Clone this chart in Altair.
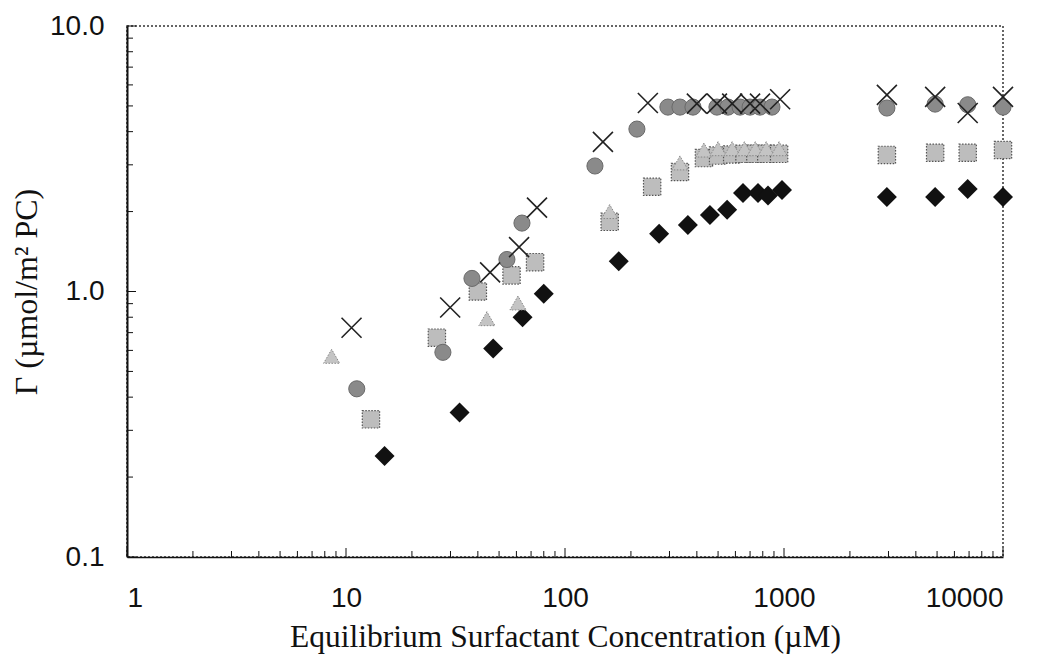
import altair as alt
import pandas as pd

# ---- data (concentration in uM, Gamma in umol/m2) ----
diamond_x = [15, 33, 47, 64, 80, 176, 269, 364, 459, 550, 650, 761, 845, 979, 2950, 4900, 6900, 10000]
diamond_y = [0.24, 0.35, 0.61, 0.80, 0.98, 1.30, 1.65, 1.78, 1.94, 2.03, 2.35, 2.35, 2.30, 2.41, 2.27, 2.27, 2.43, 2.27]

square_x = [13, 26, 40, 57, 73, 160, 250, 335, 431, 500, 580, 660, 740, 830, 950, 2950, 4900, 6900, 10000]
square_y = [0.33, 0.67, 1.0, 1.15, 1.29, 1.83, 2.48, 2.82, 3.18, 3.25, 3.28, 3.30, 3.30, 3.30, 3.30, 3.27, 3.33, 3.33, 3.41]

triangle_x = [8.6, 44, 61, 160, 335, 431, 500, 580, 660, 740, 830, 950]
triangle_y = [0.57, 0.79, 0.905, 2.0, 3.05, 3.41, 3.45, 3.45, 3.45, 3.45, 3.45, 3.45]

circle_x = [11.2, 27.7, 37.6, 54.3, 63.6, 137, 213, 295, 335, 384, 494, 555, 630, 700, 777, 881, 2950, 4900, 6900, 10000]
circle_y = [0.43, 0.59, 1.12, 1.32, 1.81, 2.97, 4.09, 4.95, 4.95, 4.95, 4.95, 4.95, 4.95, 4.95, 4.95, 4.95, 4.91, 5.08, 5.05, 4.95]

cross_x = [10.6, 29.9, 45.5, 61.7, 74.5, 149, 239, 400, 494, 580, 700, 777, 960, 2950, 4900, 6900, 10000]
cross_y = [0.73, 0.87, 1.18, 1.47, 2.07, 3.66, 5.13, 5.10, 5.10, 5.10, 5.10, 5.10, 5.30, 5.50, 5.41, 4.70, 5.41]

x_labels = [1, 10, 100, 1000, 10000]
y_labels = [0.1, 1, 10]
x_minor = [m * 10 ** k for k in range(4) for m in range(2, 10)]
y_minor = [m * 10 ** k for k in (-1, 0) for m in range(2, 10)]

W, H = 876, 531

xs = alt.Scale(type="log", domain=[1, 10000], nice=False)
ys = alt.Scale(type="log", domain=[0.1, 10], nice=False)

x_axis = alt.Axis(values=x_labels, format="d", ticks=False, grid=False,
                  labelFont="Liberation Sans", labelFontSize=28, labelColor="#111",
                  labelPadding=27, domainColor="#111", domainWidth=1.5,
                  title="Equilibrium Surfactant Concentration (\u00b5M)",
                  titleFont="Liberation Serif", titleFontSize=31.5, titleFontWeight="normal",
                  titleColor="#111", titlePadding=9)
y_axis = alt.Axis(values=y_labels, format=".1f", ticks=False, grid=False,
                  labelFont="Liberation Sans", labelFontSize=28, labelColor="#111",
                  labelPadding=23, domainColor="#111", domainWidth=2,
                  title="\u0393 (\u00b5mol/m\u00b2 PC)",
                  titleFont="Liberation Serif", titleFontSize=32, titleFontWeight="normal",
                  titleColor="#111", titlePadding=6)


def xenc(field="x"):
    return alt.X(f"{field}:Q", scale=xs, axis=x_axis)


def yenc(field="y"):
    return alt.Y(f"{field}:Q", scale=ys, axis=y_axis)


def pts(xv, yv):
    return pd.DataFrame({"x": xv, "y": yv})


# tick marks drawn inward
xt_minor = alt.Chart(pd.DataFrame({"x": x_minor})).mark_rule(color="#111", strokeWidth=1).encode(
    x=xenc(), y=alt.value(H), y2=alt.value(H - 6))
xt_major = alt.Chart(pd.DataFrame({"x": x_labels})).mark_rule(color="#111", strokeWidth=1).encode(
    x=xenc(), y=alt.value(H), y2=alt.value(H - 9))
yt_minor = alt.Chart(pd.DataFrame({"y": y_minor})).mark_rule(color="#111", strokeWidth=1).encode(
    y=yenc(), x=alt.value(0), x2=alt.value(6))
yt_major = alt.Chart(pd.DataFrame({"y": y_labels})).mark_rule(color="#111", strokeWidth=1).encode(
    y=yenc(), x=alt.value(0), x2=alt.value(9))

diamonds = alt.Chart(pts(diamond_x, diamond_y)).mark_point(
    shape="diamond", filled=True, size=400, color="#111", opacity=1).encode(x=xenc(), y=yenc())
squares = alt.Chart(pts(square_x, square_y)).mark_point(
    shape="square", filled=True, size=300, fill="#bdbdbd", stroke="#555", strokeWidth=1.2,
    strokeDash=[1.5, 1.5], opacity=1).encode(x=xenc(), y=yenc())
triangles = alt.Chart(pts(triangle_x, triangle_y)).mark_point(
    shape="triangle-up", filled=True, size=260, fill="#c4c4c4", stroke="#888", strokeWidth=1,
    strokeDash=[1.5, 1.5], opacity=1).encode(x=xenc(), y=yenc())
circles = alt.Chart(pts(circle_x, circle_y)).mark_point(
    shape="circle", filled=True, size=260, fill="#8a8a8a", stroke="#6a6a6a", strokeWidth=1,
    opacity=1).encode(x=xenc(), y=yenc())
crosses = alt.Chart(pts(cross_x, cross_y)).mark_point(
    shape="M-1,-1L1,1M-1,1L1,-1", filled=False, size=400, stroke="#222", strokeWidth=1.6,
    opacity=1).encode(x=xenc(), y=yenc())

chart = alt.layer(
    xt_minor, xt_major, yt_minor, yt_major,
    diamonds, squares, triangles, circles, crosses
).properties(
    width=W, height=H,
    autosize=alt.AutoSizeParams(type="none"),
    padding={"left": 127, "top": 26, "right": 46, "bottom": 106},
    background="white",
).configure_view(
    stroke="#333", strokeWidth=1.5, strokeDash=[2, 2]
)

chart.save("out.html", embed_options={"renderer": "svg", "actions": False})
